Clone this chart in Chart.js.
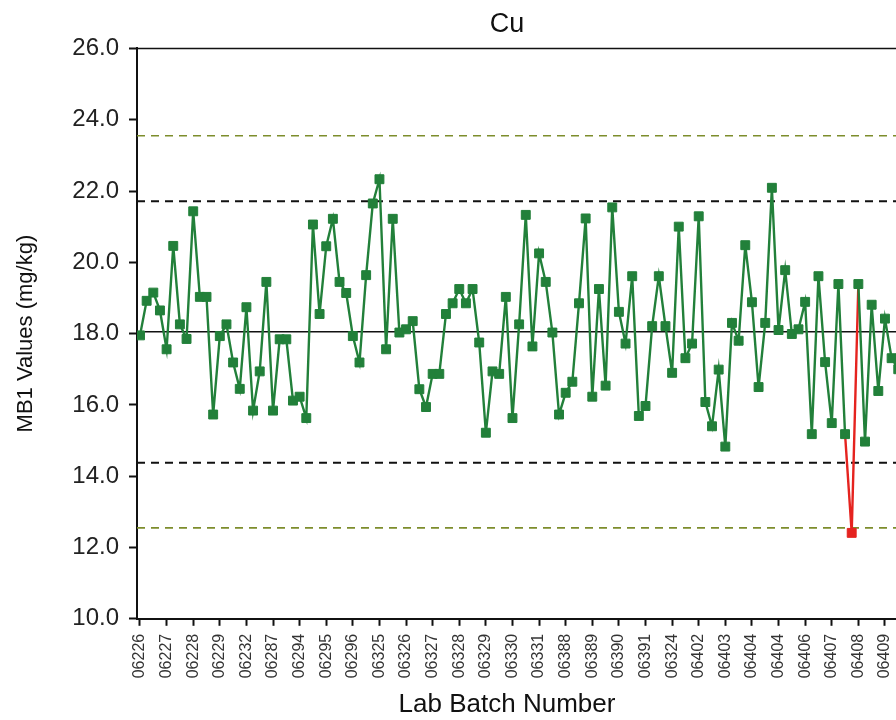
<!DOCTYPE html>
<html>
<head>
<meta charset="utf-8">
<title>Cu - MB1 control chart</title>
<script src="https://cdn.jsdelivr.net/npm/chart.js@4.4.1/dist/chart.umd.min.js"></script>
<style>
    html, body { margin: 0; padding: 0; background: #fff; overflow: hidden; }
    #wrap { position: absolute; left: 0; top: 0; width: 1024px; height: 720px; }
</style>
</head>
<body>
<div id="wrap"><canvas id="cuChart" width="1024" height="720"></canvas></div>
<script>
// MB1 Cu results, one per batch run (mg/kg)
const mb1Values = [
    17.95, 18.92, 19.15, 18.65, 17.56, 20.46, 18.26, 17.85, 21.43, 19.03,
    19.03, 15.73, 17.93, 18.26, 17.19, 16.45, 18.74, 15.84, 16.94, 19.45,
    15.84, 17.84, 17.84, 16.12, 16.23, 15.63, 21.06, 18.55, 20.45, 21.22,
    19.45, 19.14, 17.93, 17.19, 19.64, 21.65, 22.33, 17.56, 21.22, 18.03,
    18.12, 18.35, 16.44, 15.94, 16.87, 16.87, 18.55, 18.85, 19.25, 18.85,
    19.25, 17.75, 15.22, 16.94, 16.87, 19.03, 15.63, 18.26, 21.33, 17.64,
    20.25, 19.45, 18.03, 15.73, 16.34, 16.65, 18.85, 21.23, 16.23, 19.25,
    16.54, 21.54, 18.61, 17.72, 19.61, 15.69, 15.97, 18.21, 19.61, 18.21,
    16.90, 21.00, 17.31, 17.72, 21.29, 16.08, 15.40, 16.99, 14.83, 18.30,
    17.80, 20.48, 18.88, 16.50, 18.30, 22.09, 18.10, 19.78, 17.99, 18.12,
    18.89, 15.18, 19.61, 17.20, 15.49, 19.39, 15.18, 12.41, 19.39, 14.97,
    18.81, 16.39, 18.42, 17.31, 17.00
];

// batch labels shown under every 4th run
const batchLabels = [
    "06226", "06227", "06228", "06229", "06232", "06287", "06294", "06295",
    "06296", "06325", "06326", "06327", "06328", "06329", "06330", "06331",
    "06388", "06389", "06390", "06391", "06324", "06402", "06403", "06404",
    "06404", "06406", "06407", "06408", "06409"
];
const runsPerLabel = 4;

// run that falls outside the lower control limit
const outOfControlIndex = 107;

// control lines
const meanValue = 18.05;
const warningLimits = [14.38, 21.71];
const controlLimits = [12.55, 23.55];

const yTicks = [10, 12, 14, 16, 18, 20, 22, 24, 26];

const X_MIN = -0.45;
const X_MAX = 131.4;

const GREEN = "#22803a";
const RED = "#e5231f";
const OLIVE = "#7d8d2c";
const FONT = "'Liberation Sans', Arial, Helvetica, sans-serif";

function hLine(value, color, width, dash) {
    return {
        data: [{ x: X_MIN, y: value }, { x: X_MAX, y: value }],
        borderColor: color,
        borderWidth: width,
        borderDash: dash,
        pointRadius: 0,
        fill: false,
        order: 1
    };
}

// top edge of the plot frame
const frameTop = {
    id: "frameTop",
    afterDraw(chart) {
        const { ctx, chartArea } = chart;
        ctx.save();
        ctx.strokeStyle = "#111";
        ctx.lineWidth = 1.5;
        ctx.beginPath();
        ctx.moveTo(chartArea.left, chartArea.top);
        ctx.lineTo(chartArea.right, chartArea.top);
        ctx.stroke();
        ctx.restore();
    }
};

function renderChart() {
    const ctx = document.getElementById("cuChart").getContext("2d");

    const series = {
        data: mb1Values.map((v, i) => ({ x: i, y: v })),
        borderColor: GREEN,
        borderWidth: 2.4,
        pointStyle: "rect",
        pointRadius: 6.3,
        pointBorderWidth: 1,
        pointBackgroundColor: c => c.dataIndex === outOfControlIndex ? RED : GREEN,
        pointBorderColor: c => c.dataIndex === outOfControlIndex ? RED : GREEN,
        segment: {
            borderColor: s => (s.p0DataIndex === outOfControlIndex || s.p1DataIndex === outOfControlIndex) ? RED : undefined
        },
        fill: false,
        order: 0
    };

    new Chart(ctx, {
        type: "line",
        data: {
            datasets: [
                series,
                hLine(meanValue, "#111", 1.5, []),
                hLine(warningLimits[0], "#111", 2, [8, 6]),
                hLine(warningLimits[1], "#111", 2, [8, 6]),
                hLine(controlLimits[0], OLIVE, 1.6, [8, 6]),
                hLine(controlLimits[1], OLIVE, 1.6, [8, 6])
            ]
        },
        options: {
            responsive: false,
            animation: false,
            devicePixelRatio: 1,
            layout: { padding: { left: 0, right: 10, top: 0, bottom: 0 } },
            plugins: {
                legend: { display: false },
                tooltip: { enabled: false },
                title: {
                    display: true,
                    text: "Cu",
                    color: "#111",
                    font: { family: FONT, size: 27, weight: "normal" },
                    padding: { top: 8, bottom: 8 }
                },
                subtitle: {
                    display: true,
                    position: "bottom",
                    text: "Lab Batch Number",
                    color: "#111",
                    font: { family: FONT, size: 26, weight: "normal" },
                    padding: { top: 0, bottom: 0 }
                }
            },
            scales: {
                x: {
                    type: "linear",
                    min: X_MIN,
                    max: X_MAX,
                    afterBuildTicks: scale => {
                        scale.ticks = batchLabels.map((_, i) => ({ value: i * runsPerLabel }));
                    },
                    afterFit: scale => { scale.height = 70; },
                    grid: { drawOnChartArea: false, tickLength: 7, tickWidth: 2, color: "#111" },
                    border: { display: true, color: "#111", width: 2 },
                    ticks: {
                        autoSkip: false,
                        minRotation: 90,
                        maxRotation: 90,
                        padding: 8,
                        color: "#333",
                        font: { family: FONT, size: 16 },
                        callback: v => batchLabels[Math.round(v / runsPerLabel)] || ""
                    }
                },
                y: {
                    min: 10,
                    max: 26,
                    afterBuildTicks: scale => {
                        scale.ticks = yTicks.map(v => ({ value: v }));
                    },
                    afterFit: scale => { scale.width = 137; },
                    grid: { drawOnChartArea: false, tickLength: 8, tickWidth: 2, color: "#111" },
                    border: { display: true, color: "#111", width: 2 },
                    ticks: {
                        padding: 10,
                        color: "#222",
                        font: { family: FONT, size: 24 },
                        callback: v => v.toFixed(1)
                    },
                    title: {
                        display: true,
                        text: "MB1 Values (mg/kg)",
                        color: "#111",
                        font: { family: FONT, size: 22 },
                        padding: { top: 13, bottom: 0 }
                    }
                }
            }
        },
        plugins: [frameTop]
    });
}

renderChart();
</script>
</body>
</html>
